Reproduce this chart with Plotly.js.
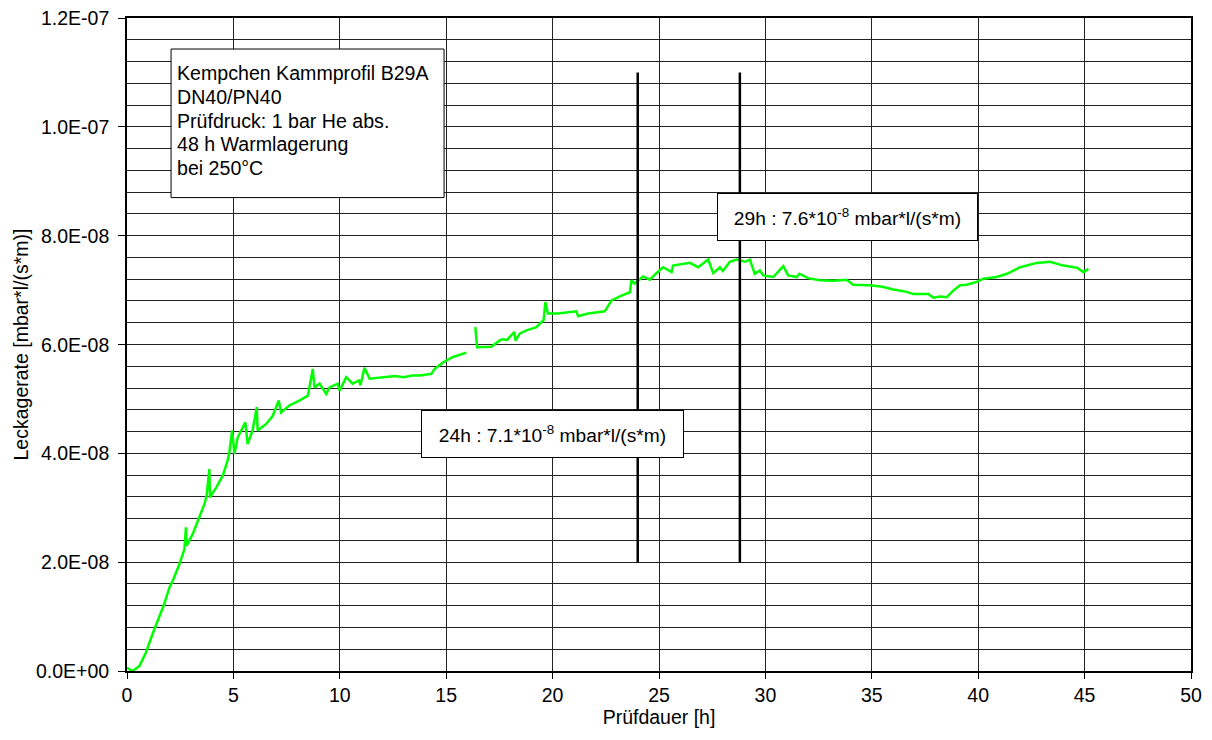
<!DOCTYPE html>
<html>
<head>
<meta charset="utf-8">
<script src="https://cdn.plot.ly/plotly-3.0.1.min.js"></script>
<style>html,body{margin:0;padding:0;background:#fff;}#chart{width:1212px;height:740px;}</style>
</head>
<body>
<div id="chart"></div>
<script>
// Prüfdauer [h]
const hours = [
  0, 0.26, 0.58, 0.89, 1.2, 1.52, 1.75, 1.99, 2.15, 2.46, 2.70, 2.77, 2.80, 3.09, 3.40, 3.64, 3.74, 3.87, 3.90,
  4.19, 4.5, 4.73, 4.81, 4.94, 5.05, 5.2, 5.56, 5.67, 5.9, 6.1, 6.14, 6.54, 6.85, 7.13, 7.24, 7.63, 8.1, 8.5,
  8.73, 8.81, 9.05, 9.36, 9.52, 9.9, 9.99, 10.3, 10.6, 10.9, 10.97, 11.16, 11.4, 12.18, 12.6, 13.0, 13.4, 13.75,
  14.3, 14.45, 14.85, 15.32, 15.87, 15.95, 16.1,
  16.37, 16.45, 17.12, 17.5, 17.67, 17.85, 18.2, 18.26, 18.45, 18.77, 19.24, 19.58, 19.66, 19.78, 20.25, 21.12,
  21.2, 21.67, 22.45, 22.77, 23.24, 23.63, 23.71, 23.86, 24.25, 24.57, 24.88, 25.19, 25.59, 25.66, 26.45, 26.84,
  27.31, 27.55, 27.86, 28.0, 28.33, 28.65, 29.04, 29.27, 29.5, 29.74, 29.9, 30.37, 30.84, 31.07, 31.47, 31.6,
  32.0, 32.56, 33.2, 33.82, 34.13, 34.92, 35.5, 36.01, 36.5, 36.95, 37.66, 37.89, 38.2, 38.52, 38.83, 39.15, 39.46, 39.93,
  40.25, 40.87, 41.35, 41.97, 42.76, 43.38, 44.0, 44.64, 44.95, 45.18
];
// Leckagerate [mbar*l/(s*m)]
const leakRate = [
  0.06e-8, 0.0e-8, 0.09e-8, 0.34e-8, 0.68e-8, 0.98e-8, 1.23e-8, 1.53e-8, 1.66e-8, 1.96e-8, 2.24e-8, 2.64e-8, 2.30e-8, 2.52e-8, 2.82e-8, 3.07e-8, 3.22e-8, 3.71e-8, 3.19e-8,
  3.37e-8, 3.59e-8, 3.87e-8, 4.02e-8, 4.42e-8, 3.99e-8, 4.29e-8, 4.57e-8, 4.17e-8, 4.42e-8, 4.85e-8, 4.42e-8, 4.54e-8, 4.69e-8, 4.97e-8, 4.75e-8, 4.88e-8, 4.97e-8, 5.06e-8,
  5.55e-8, 5.21e-8, 5.28e-8, 5.09e-8, 5.21e-8, 5.28e-8, 5.15e-8, 5.40e-8, 5.28e-8, 5.34e-8, 5.25e-8, 5.57e-8, 5.37e-8, 5.40e-8, 5.42e-8, 5.40e-8, 5.43e-8, 5.43e-8,
  5.46e-8, 5.55e-8, 5.67e-8, 5.77e-8, 5.84e-8, 5.85e-8, null,
  6.32e-8, 5.95e-8, 5.96e-8, 6.07e-8, 6.10e-8, 6.08e-8, 6.23e-8, 6.07e-8, 6.20e-8, 6.26e-8, 6.32e-8, 6.45e-8, 6.78e-8, 6.57e-8, 6.57e-8, 6.61e-8,
  6.52e-8, 6.57e-8, 6.61e-8, 6.81e-8, 6.90e-8, 6.96e-8, 7.18e-8, 7.12e-8, 7.25e-8, 7.19e-8, 7.31e-8, 7.42e-8, 7.33e-8, 7.45e-8, 7.50e-8, 7.42e-8,
  7.56e-8, 7.31e-8, 7.42e-8, 7.35e-8, 7.52e-8, 7.56e-8, 7.52e-8, 7.56e-8, 7.30e-8, 7.36e-8, 7.27e-8, 7.24e-8, 7.44e-8, 7.27e-8, 7.24e-8, 7.30e-8,
  7.22e-8, 7.18e-8, 7.17e-8, 7.19e-8, 7.10e-8, 7.09e-8, 7.06e-8, 7.01e-8, 6.98e-8, 6.93e-8, 6.93e-8, 6.86e-8, 6.88e-8, 6.87e-8, 6.99e-8, 7.09e-8, 7.10e-8, 7.15e-8,
  7.21e-8, 7.24e-8, 7.30e-8, 7.42e-8, 7.50e-8, 7.52e-8, 7.45e-8, 7.41e-8, 7.33e-8, 7.39e-8
];
// Markierungslinien bei 24 h und 29 h
const markerHours = [24, 28.8];
const markerRange = [2.0e-8, 1.1e-7];
// Achsenbeschriftungen
const xTickVals = [0, 5, 10, 15, 20, 25, 30, 35, 40, 45, 50];
const yTickVals = [0, 2e-8, 4e-8, 6e-8, 8e-8, 1e-7, 1.2e-7];
const yTickText = ['0.0E+00', '2.0E-08', '4.0E-08', '6.0E-08', '8.0E-08', '1.0E-07', '1.2E-07'];
const yTitle = 'Leckagerate [mbar*l/(s*m)]';
const xTitle = 'Prüfdauer [h]';
const infoLines = ['Kempchen Kammprofil B29A', 'DN40/PN40', 'Prüfdruck: 1 bar He abs.', '48 h Warmlagerung', 'bei 250°C'];
const label24 = '24h : 7.1*10<sup>-8</sup> mbar*l/(s*m)';
const label29 = '29h : 7.6*10<sup>-8</sup> mbar*l/(s*m)';

const FONT = '"Liberation Sans", Arial, sans-serif';
const traces = [{
  x: hours, y: leakRate, type: 'scatter', mode: 'lines',
  line: {color: '#00ff00', width: 2.5}, connectgaps: false, hoverinfo: 'skip'
}];
markerHours.forEach(h => traces.push({
  x: [h, h], y: markerRange, type: 'scatter', mode: 'lines',
  line: {color: '#000', width: 2.5}, hoverinfo: 'skip'
}));

// info box geometry (data coordinates)
const boxX0 = 2.07, boxX1 = 14.9, boxY0 = 8.70e-8, boxY1 = 11.43e-8;
const firstLineY = 10.99e-8, lineStep = 0.437e-8;

const annotations = infoLines.map((t, i) => ({
  xref: 'x', yref: 'y', x: boxX0 + 0.2, y: firstLineY - i * lineStep,
  xanchor: 'left', yanchor: 'middle', text: t, showarrow: false, align: 'left',
  font: {family: FONT, size: 19.6, color: '#000'}
}));
annotations.push(
  {
    xref: 'x', yref: 'y', x: 20.0, y: 4.353e-8, xanchor: 'center', yanchor: 'middle',
    text: label24, align: 'center', showarrow: false,
    width: 255, height: 40, borderpad: 3, bordercolor: '#000', borderwidth: 1, bgcolor: '#fff',
    font: {family: FONT, size: 19.2, color: '#000'}
  },
  {
    xref: 'x', yref: 'y', x: 33.88, y: 8.34e-8, xanchor: 'center', yanchor: 'middle',
    text: label29, align: 'center', showarrow: false,
    width: 253, height: 40, borderpad: 3, bordercolor: '#000', borderwidth: 1, bgcolor: '#fff',
    font: {family: FONT, size: 19.2, color: '#000'}
  }
);
// y tick labels placed on the y scale
yTickVals.forEach((v, i) => annotations.push({
  xref: 'paper', yref: 'y', x: 0, y: v, xanchor: 'right', yanchor: 'middle', xshift: -18,
  text: yTickText[i], showarrow: false, borderpad: 0, borderwidth: 0,
  font: {family: FONT, size: 19.5, color: '#000'}
}));
// y axis title
annotations.push({
  xref: 'paper', yref: 'paper', x: 0, y: 0.5, xanchor: 'center', yanchor: 'middle', xshift: -107,
  text: yTitle, textangle: -90, showarrow: false, borderpad: 0, borderwidth: 0,
  font: {family: FONT, size: 19.5, color: '#000'}
});

const layout = {
  width: 1212, height: 740,
  margin: {l: 127, r: 21, t: 18, b: 69},
  paper_bgcolor: '#fff', plot_bgcolor: '#fff',
  showlegend: false,
  font: {family: FONT, size: 19.5, color: '#000'},
  xaxis: {
    range: [0, 50], tickmode: 'array', tickvals: xTickVals,
    ticks: 'outside', ticklen: 6, tickcolor: '#000', tickwidth: 1,
    showgrid: true, gridcolor: '#222', gridwidth: 1,
    showline: true, linecolor: '#000', linewidth: 2, mirror: true,
    zeroline: false,
    tickfont: {family: FONT, size: 19.5},
    title: {text: xTitle, font: {family: FONT, size: 19.5}, standoff: 3}
  },
  yaxis: {
    range: [0, 1.2e-7], tickmode: 'array', tickvals: yTickVals, showticklabels: false,
    ticks: 'outside', ticklen: 7, tickcolor: '#000', tickwidth: 1,
    showgrid: true, gridcolor: '#222', gridwidth: 1,
    minor: {tickmode: 'linear', tick0: 0, dtick: 4e-9, showgrid: true, gridcolor: '#222', gridwidth: 1, ticks: ''},
    showline: true, linecolor: '#000', linewidth: 2, mirror: true,
    zeroline: false
  },
  shapes: [{
    type: 'rect', xref: 'x', yref: 'y', x0: boxX0, x1: boxX1, y0: boxY0, y1: boxY1,
    line: {color: '#000', width: 1}, fillcolor: '#fff', layer: 'above'
  }],
  annotations: annotations
};
Plotly.newPlot('chart', traces, layout, {displayModeBar: false, staticPlot: true});
</script>
</body>
</html>
